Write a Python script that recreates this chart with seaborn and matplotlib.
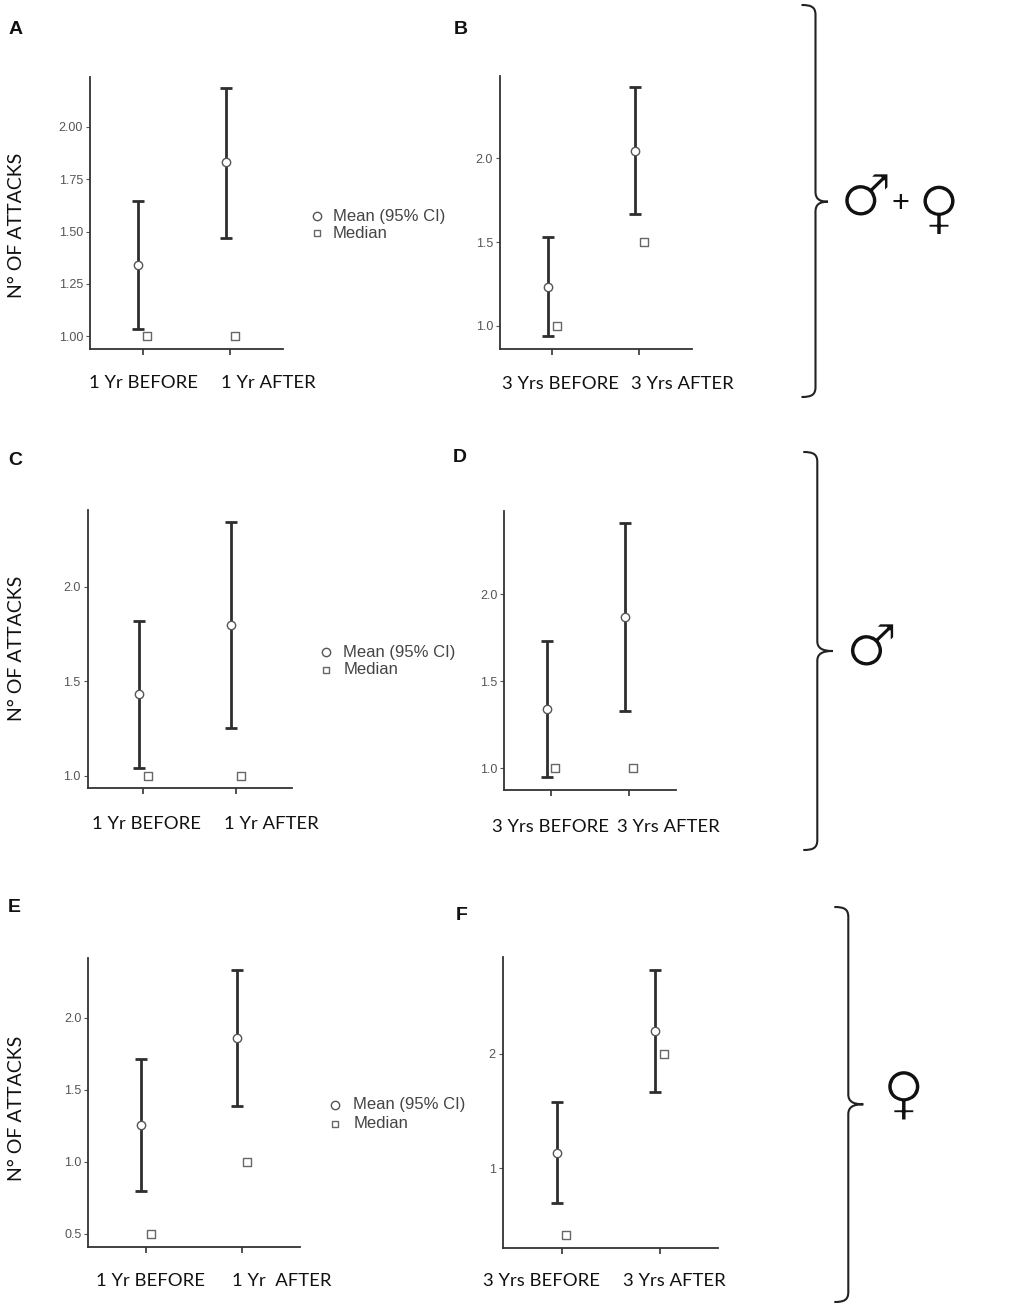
import numpy as np
import pandas as pd
import matplotlib
matplotlib.use("Agg")
import matplotlib.pyplot as plt
from matplotlib.path import Path
from matplotlib.patches import PathPatch
from matplotlib.lines import Line2D
import matplotlib.patheffects as pe
import seaborn as sns

# ---------------- data ----------------
x_labels_1yr = ["1 Yr BEFORE", "1 Yr AFTER"]
x_labels_3yr = ["3 Yrs BEFORE", "3 Yrs AFTER"]
x_labels_E = ["1 Yr BEFORE", "1 Yr  AFTER"]
legend_labels = ["Mean (95% CI)", "Median"]
y_axis_label = "N° OF ATTACKS"
panel_letters = ["A", "B", "C", "D", "E", "F"]

mean_A = [1.34, 1.83]
low_A = [1.037, 1.471]
high_A = [1.645, 2.183]
median_A = [1.0, 1.0]

mean_B = [1.233, 2.045]
low_B = [0.938, 1.668]
high_B = [1.528, 2.425]
median_B = [1.0, 1.5]

mean_C = [1.433, 1.797]
low_C = [1.042, 1.253]
high_C = [1.82, 2.345]
median_C = [1.0, 1.0]

mean_D = [1.342, 1.868]
low_D = [0.95, 1.33]
high_D = [1.732, 2.409]
median_D = [1.0, 1.0]

mean_E = [1.257, 1.857]
low_E = [0.797, 1.387]
high_E = [1.716, 2.329]
median_E = [0.5, 1.0]

mean_F = [1.134, 2.2]
low_F = [0.694, 1.67]
high_F = [1.577, 2.732]
median_F = [0.42, 2.0]

yticks_A = [1.00, 1.25, 1.50, 1.75, 2.00]
yticks_B = [1.0, 1.5, 2.0]
yticks_C = [1.0, 1.5, 2.0]
yticks_D = [1.0, 1.5, 2.0]
yticks_E = [0.5, 1.0, 1.5, 2.0]
yticks_F = [1, 2]

# ---------------- style ----------------
W, H = 1026, 1306
sns.set_theme(style="white")
plt.rcParams['font.family'] = ['Liberation Sans', 'DejaVu Sans']

fig = plt.figure(figsize=(W / 100, H / 100), dpi=100)
fig.patch.set_facecolor("white")

def fx(x):
    return x / W

def fy(y):
    return 1 - y / H

def ax_at(l, t, r, b):
    return fig.add_axes([l / W, 1 - b / H, (r - l) / W, (b - t) / H])

DARK = "#2e2e2e"

def draw_panel(ax, mean, low, high, med, ylim, yticks, yfmt):
    mean = np.asarray(mean, float)
    low = np.asarray(low, float)
    high = np.asarray(high, float)
    xpos = np.arange(len(mean))
    df_mean = pd.DataFrame({"x": xpos - 0.05, "y": mean})
    df_med = pd.DataFrame({"x": xpos + 0.05, "y": med})
    ax.errorbar(xpos - 0.05, mean, yerr=[mean - low, high - mean], fmt="none",
                ecolor=DARK, elinewidth=2.0, capsize=4.5, capthick=2.0, zorder=2)
    sns.scatterplot(data=df_mean, x="x", y="y", ax=ax, marker="o", s=36,
                    color="white", edgecolor="#555555", linewidth=1.0, zorder=4, legend=False)
    sns.scatterplot(data=df_med, x="x", y="y", ax=ax, marker="s", s=26,
                    color="white", edgecolor="#666666", linewidth=1.0, zorder=4, legend=False)
    ax.set_xlim(-0.6, 1.6)
    ax.set_ylim(*ylim)
    ax.set_xticks(xpos)
    ax.set_xticklabels([])
    ax.set_yticks(yticks)
    ax.set_yticklabels([yfmt.format(v) for v in yticks])
    ax.set_xlabel("")
    ax.set_ylabel("")
    sns.despine(ax=ax)
    for s in ["left", "bottom"]:
        ax.spines[s].set_color("#333333")
        ax.spines[s].set_linewidth(1.3)
    ax.tick_params(axis="y", which="both", left=True, direction="out", length=3,
                   width=0.8, color="#555555", labelsize=9, labelcolor="#555555", pad=2)
    ax.tick_params(axis="x", which="both", bottom=True, direction="out", length=4,
                   width=1.2, color="#333333")
    ax.grid(False)
    ax.set_facecolor("white")

panels = [
    ((90, 77, 283, 349), mean_A, low_A, high_A, median_A, (0.94, 2.237), yticks_A, "{:.2f}"),
    ((500, 76, 691.7, 349), mean_B, low_B, high_B, median_B, (0.861, 2.492), yticks_B, "{:.1f}"),
    ((87.7, 510, 291.7, 788.3), mean_C, low_C, high_C, median_C, (0.933, 2.408), yticks_C, "{:.1f}"),
    ((504.3, 511, 675.7, 790), mean_D, low_D, high_D, median_D, (0.876, 2.476), yticks_D, "{:.1f}"),
    ((88.3, 958.3, 300, 1246.7), mean_E, low_E, high_E, median_E, (0.41, 2.412), yticks_E, "{:.1f}"),
    ((502.7, 956.7, 718.3, 1248.3), mean_F, low_F, high_F, median_F, (0.30, 2.851), yticks_F, "{:d}"),
]

for rect, m, lo, hi, md, yl, yt, fmt in panels:
    ax = ax_at(*rect)
    draw_panel(ax, m, lo, hi, md, yl, yt, fmt)

# category labels (placed as in the reference)
cat_font = dict(family=["Lato", "DejaVu Sans"], fontsize=13.3, color="#111111", ha="center", va="center")
cat_pos = [
    (x_labels_1yr, [143.5, 268], 383),
    (x_labels_3yr, [561, 682], 384),
    (x_labels_1yr, [147, 271], 824.3),
    (x_labels_3yr, [550, 668], 826.7),
    (x_labels_E, [150.5, 282], 1280.7),
    (x_labels_3yr, [541.3, 674], 1280.7),
]
for labels, xs, y in cat_pos:
    for lab, xx in zip(labels, xs):
        fig.text(fx(xx), fy(y), lab, **cat_font)

# y axis labels
for yc in [225, 648, 1108]:
    fig.text(fx(17), fy(yc), y_axis_label, rotation=90, ha="center", va="center",
             family=["Lato", "DejaVu Sans"], fontsize=14, color="#111111")

# panel letters
for letter, (xx, yy) in zip(panel_letters, [(16, 30), (461, 29), (15, 461), (460, 457), (14, 908), (462, 915)]):
    fig.text(fx(xx), fy(yy), letter, ha="center", va="center", fontsize=14,
             fontweight="bold", color="#111111")

# legends
for cx, cy, sy, tx in [(316.7, 216, 233.3, 333), (326, 652, 670, 343.3), (335, 1105, 1124, 353.3)]:
    fig.add_artist(Line2D([fx(cx)], [fy(cy)], transform=fig.transFigure, marker="o", ls="",
                          mfc="white", mec="#555555", ms=6, mew=1.0))
    fig.add_artist(Line2D([fx(cx)], [fy(sy)], transform=fig.transFigure, marker="s", ls="",
                          mfc="white", mec="#666666", ms=5, mew=1.0))
    fig.text(fx(tx), fy(cy), legend_labels[0], ha="left", va="center", fontsize=12, color="#444444")
    fig.text(fx(tx), fy(sy), legend_labels[1], ha="left", va="center", fontsize=12, color="#444444")

# curly braces
def brace(xv, top, bottom, tip_x, mid, hook=14, r=10):
    pts = [
        (xv - hook, top),
        (xv - hook * 0.3, top), (xv, top + r * 0.2), (xv, top + r),
        (xv, mid - r),
        (xv, mid - r * 0.3), (xv + (tip_x - xv) * 0.3, mid), (tip_x, mid),
        (xv + (tip_x - xv) * 0.3, mid), (xv, mid + r * 0.3), (xv, mid + r),
        (xv, bottom - r),
        (xv, bottom - r * 0.2), (xv - hook * 0.3, bottom), (xv - hook, bottom),
    ]
    codes = [Path.MOVETO,
             Path.CURVE4, Path.CURVE4, Path.CURVE4,
             Path.LINETO,
             Path.CURVE4, Path.CURVE4, Path.CURVE4,
             Path.CURVE4, Path.CURVE4, Path.CURVE4,
             Path.LINETO,
             Path.CURVE4, Path.CURVE4, Path.CURVE4]
    verts = [(fx(a), fy(b)) for a, b in pts]
    fig.add_artist(PathPatch(Path(verts, codes), fill=False, edgecolor="#222222",
                             lw=1.5, transform=fig.transFigure))

brace(815.5, 5, 397, 828, 201.7)
brace(817.3, 452, 850, 832.7, 651)
brace(848.3, 907, 1302, 863.3, 1104.3)

# sex symbols (slightly thinned with a white outline stroke)
thin = [pe.Stroke(linewidth=1.2, foreground="white")]
sym = dict(family=["DejaVu Sans"], fontweight="normal", ha="center", va="center",
           color="#111111", path_effects=thin)
fig.text(fx(866), fy(199), "♂", fontsize=42, **sym)
fig.text(fx(900), fy(204), "+", fontsize=22, family=["Liberation Sans"], ha="center",
         va="center", color="#111111")
fig.text(fx(939), fy(211), "♀", fontsize=42, **sym)
fig.text(fx(871.7), fy(649), "♂", fontsize=42, **sym)
fig.text(fx(903.8), fy(1096.5), "♀", fontsize=42, **sym)

fig.savefig("out.png", dpi=100, facecolor="white")
